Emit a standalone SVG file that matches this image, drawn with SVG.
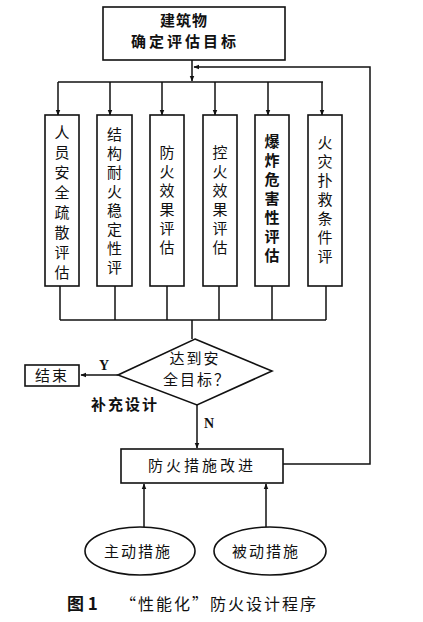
<svg xmlns="http://www.w3.org/2000/svg" width="423" height="622" viewBox="0 0 423 622">
<style>
.b{fill:#fff;stroke:#111;stroke-width:1.6}
.l{fill:none;stroke:#111;stroke-width:1.5}
.t{font-family:"Noto Sans CJK SC","Noto Sans",sans-serif;font-size:15px;fill:#111;text-anchor:middle}
.s{font-family:"Liberation Serif",serif;font-weight:bold;font-size:14px;fill:#111;text-anchor:middle}
</style>
<defs>
<marker id="a" viewBox="0 0 10 10" refX="9" refY="5" markerWidth="6" markerHeight="6" orient="auto" markerUnits="userSpaceOnUse"><path d="M0,1 L10,5 L0,9 z" fill="#111"/></marker>
</defs>
<rect width="423" height="622" fill="#fff"/>
<g id="connectors">
<line class="l" x1="192" y1="60" x2="192" y2="81" marker-end="url(#a)"/>
<polyline class="l" points="283,464 370,464 370,67 194,67" marker-end="url(#a)"/>
<line class="l" x1="58" y1="82" x2="323" y2="82"/>
<line class="l" x1="58" y1="82" x2="58" y2="115" marker-end="url(#a)"/>
<line class="l" x1="110" y1="82" x2="110" y2="115" marker-end="url(#a)"/>
<line class="l" x1="162" y1="82" x2="162" y2="115" marker-end="url(#a)"/>
<line class="l" x1="215" y1="82" x2="215" y2="115" marker-end="url(#a)"/>
<line class="l" x1="268" y1="82" x2="268" y2="115" marker-end="url(#a)"/>
<line class="l" x1="322" y1="82" x2="322" y2="115" marker-end="url(#a)"/>
<line class="l" x1="60" y1="286" x2="60" y2="320"/>
<line class="l" x1="115" y1="286" x2="115" y2="320"/>
<line class="l" x1="167" y1="286" x2="167" y2="320"/>
<line class="l" x1="219" y1="286" x2="219" y2="320"/>
<line class="l" x1="272" y1="286" x2="272" y2="320"/>
<line class="l" x1="326" y1="286" x2="326" y2="320"/>
<line class="l" x1="60" y1="320" x2="326" y2="320"/>
<line class="l" x1="192" y1="320" x2="192" y2="339"/>
<line class="l" x1="118" y1="375" x2="81" y2="375" marker-end="url(#a)"/>
<line class="l" x1="197" y1="405" x2="197" y2="448" marker-end="url(#a)"/>
<line class="l" x1="144" y1="527" x2="144" y2="484" marker-end="url(#a)"/>
<line class="l" x1="266" y1="527" x2="266" y2="484" marker-end="url(#a)"/>
<text class="s" x="104" y="370">Y</text>
<text class="s" x="209" y="428">N</text>
<text class="t" x="125" y="410" font-weight="bold" letter-spacing="2">补充设计</text>
</g>
<g id="top"><rect class="b" x="103" y="7" width="182" height="53"/>
<text class="t" x="184" y="26" font-size="14" font-weight="bold" letter-spacing="1">建筑物</text>
<text class="t" x="185" y="47" font-size="14" font-weight="bold" letter-spacing="3">确定评估目标</text></g>
<g id="n1"><rect class="b" x="45" y="115" width="34" height="171"/>
<text class="t"><tspan x="62" y="138">人</tspan><tspan x="62" y="158">员</tspan><tspan x="62" y="178">安</tspan><tspan x="62" y="198">全</tspan><tspan x="62" y="218">疏</tspan><tspan x="62" y="238">散</tspan><tspan x="62" y="258">评</tspan><tspan x="62" y="278">估</tspan></text></g>
<g id="n2"><rect class="b" x="97" y="115" width="35" height="171"/>
<text class="t"><tspan x="114.5" y="140">结</tspan><tspan x="114.5" y="159">构</tspan><tspan x="114.5" y="178">耐</tspan><tspan x="114.5" y="197">火</tspan><tspan x="114.5" y="216">稳</tspan><tspan x="114.5" y="235">定</tspan><tspan x="114.5" y="254">性</tspan><tspan x="114.5" y="273">评</tspan></text></g>
<g id="n3"><rect class="b" x="150" y="115" width="34" height="171"/>
<text class="t"><tspan x="167" y="158">防</tspan><tspan x="167" y="177">火</tspan><tspan x="167" y="196">效</tspan><tspan x="167" y="215">果</tspan><tspan x="167" y="234">评</tspan><tspan x="167" y="253">估</tspan></text></g>
<g id="n4"><rect class="b" x="203" y="115" width="34" height="171"/>
<text class="t"><tspan x="220" y="158">控</tspan><tspan x="220" y="177">火</tspan><tspan x="220" y="196">效</tspan><tspan x="220" y="215">果</tspan><tspan x="220" y="234">评</tspan><tspan x="220" y="253">估</tspan></text></g>
<g id="n5"><rect class="b" x="255" y="115" width="34" height="171"/>
<text class="t" font-weight="bold"><tspan x="272" y="147">爆</tspan><tspan x="272" y="166">炸</tspan><tspan x="272" y="185">危</tspan><tspan x="272" y="204">害</tspan><tspan x="272" y="223">性</tspan><tspan x="272" y="242">评</tspan><tspan x="272" y="261">估</tspan></text></g>
<g id="n6"><rect class="b" x="308" y="115" width="34" height="171"/>
<text class="t"><tspan x="325" y="148">火</tspan><tspan x="325" y="167">灾</tspan><tspan x="325" y="186">扑</tspan><tspan x="325" y="205">救</tspan><tspan x="325" y="224">条</tspan><tspan x="325" y="243">件</tspan><tspan x="325" y="262">评</tspan></text></g>
<g id="decision"><polygon class="b" points="195,339 272,371 197,405 118,375"/>
<text class="t" x="195" y="364" letter-spacing="2">达到安</text>
<text class="t" x="197" y="385" letter-spacing="2">全目标？</text></g>
<g id="end"><rect class="b" x="25" y="365" width="54" height="21"/>
<text class="t" x="52" y="381" letter-spacing="2">结束</text></g>
<g id="improve"><rect class="b" x="121" y="449" width="162" height="34"/>
<text class="t" x="202" y="471" letter-spacing="3">防火措施改进</text></g>
<g id="active"><ellipse class="b" cx="140" cy="551" rx="55" ry="24"/>
<text class="t" x="138" y="557" letter-spacing="2">主动措施</text></g>
<g id="passive"><ellipse class="b" cx="270" cy="551" rx="56" ry="24"/>
<text class="t" x="266" y="557" letter-spacing="2">被动措施</text></g>
<g id="caption">
<text x="67" y="610" font-family="Noto Sans CJK SC,sans-serif" font-size="17" font-weight="bold" fill="#111">图 1</text>
<text x="120" y="610" font-family="Noto Sans CJK SC,sans-serif" font-size="16" fill="#111" letter-spacing="2">“性能化”防火设计程序</text>
</g>
</svg>
